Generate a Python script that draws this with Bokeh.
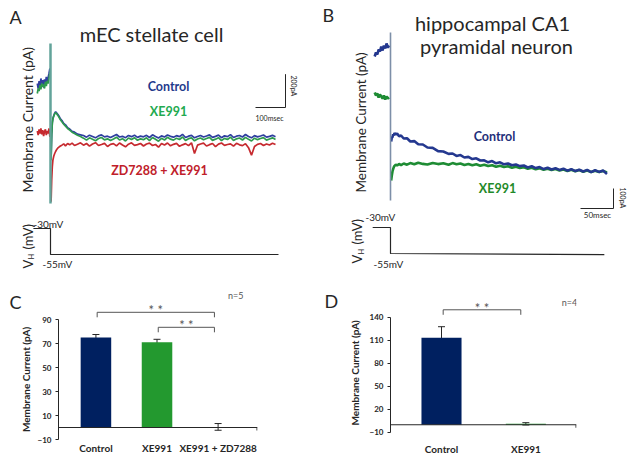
from math import pi
from bokeh.plotting import figure
from bokeh.models import Range1d, Label, Whisker, ColumnDataSource, FixedTicker, Span, TeeHead
from bokeh.layouts import column, row
from bokeh.core.properties import value
from bokeh.embed import file_html
from bokeh.resources import INLINE

# ---------------- Panel A: mEC stellate cell (time in ms, current in pA) ----------------
A_TITLE = "mEC stellate cell"
A_STEP_TIME = 0
A_ARTIFACT_PA = [570, -390]
A_T_PRE = [-44, -41, -38, -35, -32, -29, -26, -23, -20, -17, -14, -11, -8, -5, -2]
A_CONTROL_PRE = [330, 300, 345, 310, 360, 325, 350, 305, 355, 330, 370, 340, 365, 390, 420]
A_XE991_PRE = [270, 300, 285, 320, 295, 330, 310, 325, 300, 340, 315, 345, 330, 360, 395]
A_ZD_PRE = [45, 20, 55, 30, 60, 25, 50, 15, 40, 55, 20, 45, 30, 60, 10]
A_T_POST = [
    2, 4, 6, 8, 11, 14, 17, 20, 24, 28,
    33, 38, 44, 50, 57, 64, 72, 80, 90, 100,
    110, 120, 130, 140, 150, 160, 170, 180, 190, 200,
    210, 220, 230, 240, 250, 260, 270, 280, 290, 300,
    310, 320, 330, 340, 350, 360, 370, 380, 390, 400,
    410, 420, 430, 440, 450, 460, 470, 480, 490, 500,
    510, 520, 530, 540, 550, 560, 570, 580, 590, 600,
    610, 620, 630, 640, 650, 660, 670, 680, 690, 700,
    710, 720, 730, 740, 750]
A_CONTROL_POST = [
    -120, 30, 95, 120, 138, 152, 160, 155, 146, 135,
    118, 108, 90, 82, 64, 57, 43, 38, 26, 22,
    18, 8, 20, 12, 4, 16, 22, 10, 14, 6,
    15, 24, 9, 13, 5, 18, 11, 20, 7, 14,
    10, 19, 6, 22, 12, 3, 16, 9, 21, 13,
    8, 17, 11, 25, 6, 14, 19, 4, 12, 18,
    9, 15, 22, 7, 13, 20, 5, 16, 11, 23,
    6, 14, 18, 9, 24, 12, 4, 17, 10, 15,
    21, 8, 13, 19, 10]
A_XE991_POST = [
    -130, 25, 90, 118, 135, 148, 155, 150, 140, 128,
    112, 100, 86, 74, 60, 50, 38, 30, 20, 12,
    2, -10, 4, -4, -14, 0, 6, -8, -2, -12,
    -3, 8, -9, -1, -15, 3, -6, 5, -11, -2,
    -7, 4, -13, 6, -5, -16, 1, -9, 7, -4,
    -10, 2, -6, 9, -12, -1, 4, -14, -3, 3,
    -8, 0, 7, -11, -4, 5, -13, 1, -6, 8,
    -12, -2, 3, -9, 7, -5, -15, 2, -7, 0,
    5, -10, -3, 4, -6]
A_ZD_POST = [
    -380, -250, -170, -130, -105, -90, -78, -68, -58, -52,
    -45, -40, -32, -44, -30, -38, -28, -42, -34, -26,
    -40, -30, -46, -33, -25, -42, -36, -29, -48, -35,
    -31, -44, -27, -39, -50, -34, -26, -41, -37, -30,
    -45, -33, -28, -42, -36, -52, -30, -39, -27, -44,
    -35, -29, -47, -38, -31, -43, -26, -90, -40, -33,
    -28, -45, -37, -30, -49, -34, -27, -41, -36, -32,
    -46, -29, -38, -43, -31, -55, -100, -48, -35, -30,
    -42, -33, -39, -28, -36]
A_STEP_T = [-57, 0, 0, 760]
A_STEP_MV = [-30, -30, -55, -55]
A_SCALE_MS = 100
A_SCALE_PA = 200

# ---------------- Panel B: hippocampal CA1 pyramidal neuron ----------------
B_TITLE = ["hippocampal CA1", "pyramidal neuron"]
B_STEP_TIME = 0
B_ARTIFACT_PA = [695, -145]
B_T_PRE = [-24, -22, -20, -18, -16, -14, -12, -10, -8, -6, -4, -2]
B_CONTROL_PRE = [575, 595, 585, 610, 600, 625, 605, 630, 615, 640, 620, 630]
B_XE991_PRE = [395, 380, 390, 370, 385, 375, 365, 380, 360, 375, 365, 370]
B_T_POST = [
    1, 2, 3, 4, 5, 6, 8, 10, 13, 16,
    20, 25, 30, 36, 42, 49, 56, 64, 72, 80,
    88, 94, 100, 106, 112, 118, 124, 130, 136, 142,
    148, 154, 160, 166, 172, 178, 184, 190, 196, 202,
    208, 214, 220, 226, 232, 238, 244, 250, 256, 262,
    268, 274, 280, 286, 292, 298, 304, 310, 316, 322,
    328]
B_CONTROL_POST = [
    150, 170, 172, 186, 180, 192, 185, 190, 176, 180,
    165, 166, 150, 152, 136, 135, 120, 118, 102, 100,
    88, 90, 78, 82, 70, 73, 62, 66, 55, 56,
    46, 52, 41, 46, 36, 40, 31, 35, 27, 30,
    20, 26, 17, 22, 12, 19, 10, 16, 8, 14,
    4, 12, 2, 9, 0, 8, -3, 6, -2, 5,
    -12]
B_XE991_POST = [
    -45, -20, 0, 12, 22, 28, 34, 30, 38, 32,
    40, 34, 42, 36, 44, 38, 35, 43, 37, 41,
    34, 42, 36, 40, 33, 38, 31, 36, 29, 34,
    27, 31, 24, 29, 22, 26, 19, 24, 17, 21,
    14, 19, 11, 16, 9, 14, 7, 12, 5, 10,
    3, 9, 1, 7, -1, 5, -3, 4, -2, 3,
    -5]
B_STEP_T = [-27, 0, 0, 324]
B_STEP_MV = [-30, -30, -55, -56]
B_SCALE_MS = 50
B_SCALE_PA = 100

# ---------------- Panel C / D bar charts ----------------
C_CATS = ["Control", "XE991", "XE991 + ZD7288"]
C_MEAN = [75, 71, 0.5]
C_ERR = [2.5, 2.5, 2.8]
C_TICKS = [-10, 10, 30, 50, 70, 90]
C_N = "n=5"
C_SIG = [(0, 2, "* *"), (1, 2, "* *")]

D_CATS = ["Control", "XE991"]
D_MEAN = [113, 1.2]
D_ERR = [14.5, 1.5]
D_TICKS = [-10, 20, 50, 80, 110, 140]
D_N = "n=4"
D_SIG = [(0, 1, "* *")]

FONT = "Lato"
INK = "#262626"
NAVY = "#002060"
BAR_GREEN = "#23992f"


def mapper(rx0, vx0, px_per_x, ry0, vy0, px_per_y):
    return (lambda rx: vx0 + (rx - rx0) / px_per_x), (lambda ry: vy0 + (ry0 - ry) / px_per_y)


def label(p, x, y, text, size, color=INK, bold=False, align="center", baseline="middle", angle=0.0):
    p.add_layout(Label(x=x, y=y, text=text, text_font=FONT, text_font_size=f"{size}px",
                       text_color=color, text_font_style="bold" if bold else "normal",
                       text_align=align, text_baseline=baseline, angle=angle))


def blank_fig(w, h, fx, fy, left, top):
    p = figure(width=w, height=h, x_range=Range1d(fx(left), fx(left + w)),
               y_range=Range1d(fy(top + h), fy(top)), output_backend="svg",
               toolbar_location=None, x_axis_location=None, y_axis_location=None,
               min_border=0, outline_line_color=None)
    p.grid.grid_line_color = None
    return p


def vh_label(p, fx, fy, rx, ry_bottom):
    label(p, fx(rx), fy(ry_bottom), "V", 13, align="left", angle=pi / 2)
    label(p, fx(rx + 4), fy(ry_bottom - 9), "H", 7.5, align="left", angle=pi / 2)
    label(p, fx(rx), fy(ry_bottom - 19), "(mV)", 13, align="left", angle=pi / 2)


# ======================= Panel A =======================
fxA, fyA = mapper(50, 0, 0.3, 138, 0, 1 / 6)
fmvA = lambda ry: -30 + (228 - ry) / 1.04
pA = blank_fig(320, 280, fxA, fyA, 0, 0)
pA.extra_y_ranges = {"mV": Range1d(fmvA(280), fmvA(0))}
for t, v, c in [(A_T_PRE, A_CONTROL_PRE, "#2f3f9f"), (A_T_POST, A_CONTROL_POST, "#2f3f9f"),
                (A_T_PRE, A_XE991_PRE, "#2e9a4e"), (A_T_POST, A_XE991_POST, "#2e9a4e"),
                (A_T_PRE, A_ZD_PRE, "#c62a2f"), (A_T_POST, A_ZD_POST, "#c62a2f")]:
    pA.line(t, v, line_color=c, line_width=1.7)
pA.line([A_STEP_TIME, A_STEP_TIME], A_ARTIFACT_PA, line_color="#62a39a", line_width=2.5)
pA.line(A_STEP_T, A_STEP_MV, y_range_name="mV", line_color=INK, line_width=1.2)
sxA, syA = fxA(285), fyA(107)
pA.line([sxA - A_SCALE_MS, sxA, sxA], [syA, syA, syA + A_SCALE_PA], line_color=INK, line_width=1)
label(pA, fxA(269), fyA(117), f"{A_SCALE_MS}msec", 7)
label(pA, fxA(293), fyA(75), f"{A_SCALE_PA}pA", 7, align="left", angle=-pi / 2)
label(pA, fxA(9), fyA(16), "A", 18, align="left")
label(pA, fxA(151), fyA(33), A_TITLE, 20)
label(pA, fxA(27), fyA(192), "Membrane Current (pA)", 14, align="left", angle=pi / 2)
label(pA, fxA(168), fyA(86), "Control", 12.5, color="#1f3a8c", bold=True)
label(pA, fxA(168), fyA(111), "XE991", 12.5, color="#22aa50", bold=True)
label(pA, fxA(159), fyA(170), "ZD7288 + XE991", 12.5, color="#c0202a", bold=True)
label(pA, fxA(33), fyA(223), "-30mV", 10, align="left")
label(pA, fxA(42), fyA(263), "-55mV", 10, align="left")
vh_label(pA, fxA, fyA, 27, 268)

# ======================= Panel B =======================
fxB, fyB = mapper(390, 0, 0.66, 171, 0, 0.2)
fmvB = lambda ry: -30 + (227 - ry) / 1.04
pB = blank_fig(312, 280, fxB, fyB, 320, 0)
pB.extra_y_ranges = {"mV": Range1d(fmvB(280), fmvB(0))}
for t, v, c in [(B_T_PRE, B_XE991_PRE, "#1e8c34"), (B_T_POST, B_XE991_POST, "#1e8c34"),
                (B_T_PRE, B_CONTROL_PRE, "#24388f"), (B_T_POST, B_CONTROL_POST, "#24388f")]:
    pB.line(t, v, line_color=c, line_width=2.6)
pB.line([B_STEP_TIME, B_STEP_TIME], B_ARTIFACT_PA, line_color="#7d8fa8", line_width=1.6)
pB.line(B_STEP_T, B_STEP_MV, y_range_name="mV", line_color=INK, line_width=1.2)
sxB, syB = fxB(613), fyB(208)
pB.line([sxB - B_SCALE_MS, sxB, sxB], [syB, syB, syB + B_SCALE_PA], line_color=INK, line_width=1)
label(pB, fxB(597), fyB(214), f"{B_SCALE_MS}msec", 8)
label(pB, fxB(622), fyB(187), f"{B_SCALE_PA}pA", 7, align="left", angle=-pi / 2)
label(pB, fxB(322), fyB(14), "B", 18, align="left")
label(pB, fxB(492), fyB(22), B_TITLE[0], 20)
label(pB, fxB(496), fyB(45), B_TITLE[1], 20)
label(pB, fxB(360), fyB(192), "Membrane Current (pA)", 13.5, align="left", angle=pi / 2)
label(pB, fxB(494), fyB(136), "Control", 12.5, color="#1f2f7a", bold=True)
label(pB, fxB(497), fyB(188), "XE991", 12.5, color="#1f8a2a", bold=True)
label(pB, fxB(365), fyB(216), "-30mV", 10, align="left")
label(pB, fxB(373), fyB(263), "-55mV", 10, align="left")
vh_label(pB, fxB, fyB, 356.5, 263)


# ======================= Bar panels =======================
def bar_panel(w, h, fx, fy, left, top, bl, br, bt, cats, means, errs, colors,
              ticks, bar_w, cat_ry, px_per_y, sig, sig_h, sig_drop):
    p = figure(width=w, height=h,
               x_range=Range1d(fx(left + bl), fx(left + w - br)),
               y_range=Range1d(fy(top + h), fy(top + bt)),
               output_backend="svg", toolbar_location=None, x_axis_location=None,
               min_border_left=bl, min_border_right=br, min_border_top=bt, min_border_bottom=0,
               outline_line_color=None)
    p.grid.grid_line_color = None
    xs = list(range(1, len(cats) + 1))
    src = ColumnDataSource(dict(x=xs, top=means, color=colors, cat=cats,
                                cat_y=[fy(cat_ry)] * len(cats),
                                upper=[m + e for m, e in zip(means, errs)],
                                lower=[m - e for m, e in zip(means, errs)]))
    p.vbar(x="x", top="top", width=bar_w, fill_color="color", line_color=None, source=src)
    p.add_layout(Span(location=0, dimension="width", line_color=INK, line_width=1))
    xr_end = fx(left + w - br - 0.5)
    p.segment(x0=[xr_end], y0=[0], x1=[xr_end], y1=[-3 / px_per_y], line_color=INK, line_width=1)
    p.add_layout(Whisker(base="x", upper="upper", lower="lower", source=src,
                         line_color=INK, line_width=1,
                         upper_head=TeeHead(size=7, line_color=INK, line_width=1),
                         lower_head=TeeHead(size=7, line_color=INK, line_width=1)))
    # category labels under the axis
    p.text(x="x", y="cat_y", text="cat", source=src, text_font=value(FONT),
           text_font_size="10px", text_font_style="bold", text_color=INK,
           text_align="center", text_baseline="middle")
    for (i, j, txt), hgt in zip(sig, sig_h):
        x1, x2 = xs[i] + 0.02, xs[j] - 0.06
        d = sig_drop / px_per_y
        p.line([x1, x1, x2, x2], [hgt - d, hgt, hgt, hgt - d], line_color="#555555", line_width=1)
        label(p, (x1 + x2) / 2, hgt + 2 / px_per_y, txt, 13, color="#555555")
    p.yaxis.ticker = FixedTicker(ticks=ticks)
    p.yaxis.bounds = (ticks[0], ticks[-1])
    p.yaxis.axis_line_color = INK
    p.yaxis.major_tick_line_color = INK
    p.yaxis.major_tick_out = 3
    p.yaxis.major_tick_in = 0
    p.yaxis.minor_tick_out = 0
    p.yaxis.minor_tick_line_color = None
    p.yaxis.axis_label_standoff = 0
    p.yaxis.major_label_standoff = 4
    p.yaxis.major_label_text_font = FONT
    p.yaxis.major_label_text_font_size = "8px"
    p.yaxis.major_label_text_font_style = "bold"
    p.yaxis.major_label_text_color = INK
    return p


# Panel C
fxC, fyC = mapper(93, 1, 62, 319, 90, 1.2)
pC = bar_panel(286, 178, fxC, fyC, 34, 280, 21, 63, 10, C_CATS, C_MEAN, C_ERR,
               [NAVY, BAR_GREEN, "#7f7f7f"], C_TICKS, 0.5, 447, 1.2, C_SIG, [96, 83.5], 5)
label(pC, fxC(235), fyC(295), C_N, 9, color="#555555")
fxCl, fyCl = mapper(0, 0, 1, 280, 0, 1)
pCl = blank_fig(34, 178, fxCl, fyCl, 0, 280)
label(pCl, fxCl(9), fyCl(292), "C", 18, align="left")
label(pCl, fxCl(25), fyCl(430), "Membrane Current (pA)", 10, bold=True, align="left", angle=pi / 2)

# Panel D
fxD, fyD = mapper(441, 1, 84.35, 316.6, 140, 0.769)
pD = bar_panel(270, 178, fxD, fyD, 362, 280, 28, 56, 10, D_CATS, D_MEAN, D_ERR,
               [NAVY, BAR_GREEN], D_TICKS, 0.475, 448, 0.769, D_SIG, [149.5], 5)
label(pD, fxD(569), fyD(302), D_N, 9, color="#555555")
fxDl, fyDl = mapper(320, 0, 1, 280, 0, 1)
pDl = blank_fig(42, 178, fxDl, fyDl, 320, 280)
label(pDl, fxDl(324), fyDl(291), "D", 18, align="left")
label(pDl, fxDl(354), fyDl(423), "Membrane Current (pA)", 10, bold=True, align="left", angle=pi / 2)

layout = column(row(pA, pB), row(pCl, pC, pDl, pD))
open("out.html", "w").write(file_html(layout, INLINE))
